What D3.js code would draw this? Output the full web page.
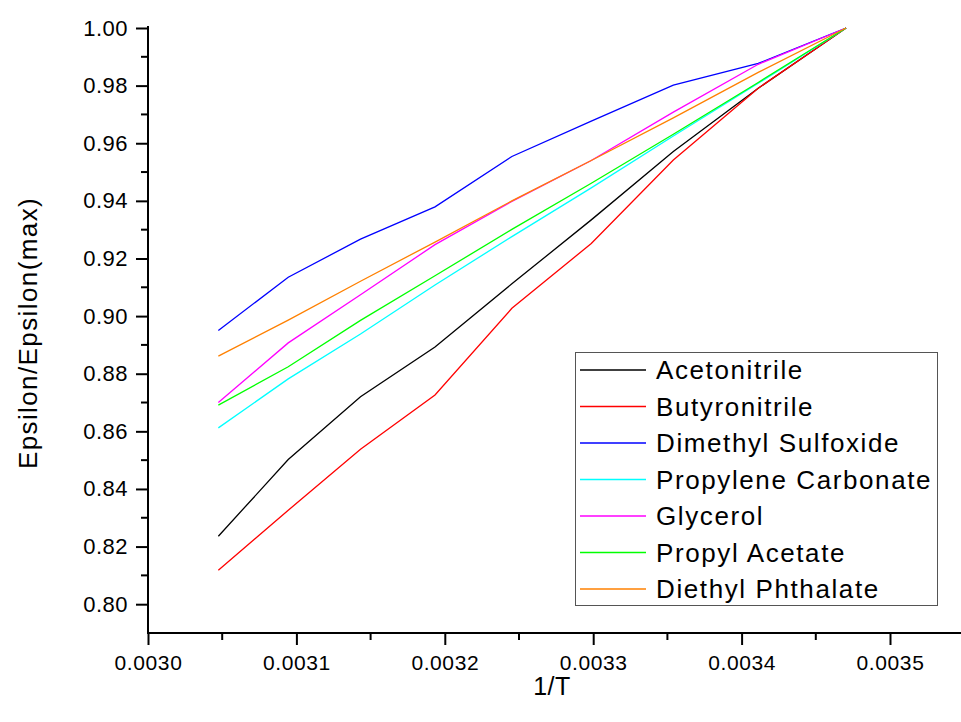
<!DOCTYPE html>
<html>
<head>
<meta charset="utf-8">
<script src="https://cdn.jsdelivr.net/npm/d3@7/dist/d3.min.js"></script>
<style>
  html, body { margin: 0; padding: 0; background: #fff; }
  svg text { font-family: "Liberation Sans", Arial, sans-serif; fill: #000; }
</style>
</head>
<body>
<svg id="chart" width="961" height="722"></svg>
<script>
// ---- data ----
const invT = [0.0030474, 0.0030945, 0.0031432, 0.0031934, 0.0032452, 0.0032987, 0.0033540, 0.0034112, 0.0034704];
const seriesNames = ["Acetonitrile", "Butyronitrile", "Dimethyl Sulfoxide", "Propylene Carbonate", "Glycerol", "Propyl Acetate", "Diethyl Phthalate"];
const acetonitrile        = [0.8236, 0.8502, 0.8720, 0.8893, 0.9112, 0.9334, 0.9571, 0.9791, 1.0];
const butyronitrile       = [0.8118, 0.8326, 0.8538, 0.8726, 0.9027, 0.9252, 0.9542, 0.9791, 1.0];
const dimethylSulfoxide   = [0.8950, 0.9135, 0.9267, 0.9379, 0.9554, 0.9677, 0.9802, 0.9877, 1.0];
const propyleneCarbonate  = [0.8612, 0.8782, 0.8938, 0.9108, 0.9276, 0.9445, 0.9625, 0.9808, 1.0];
const glycerol            = [0.8700, 0.8907, 0.9074, 0.9248, 0.9398, 0.9540, 0.9708, 0.9874, 1.0];
const propylAcetate       = [0.8691, 0.8824, 0.8985, 0.9140, 0.9301, 0.9461, 0.9631, 0.9811, 1.0];
const diethylPhthalate    = [0.8861, 0.8986, 0.9121, 0.9257, 0.9400, 0.9540, 0.9688, 0.9846, 1.0];
const seriesValues = [acetonitrile, butyronitrile, dimethylSulfoxide, propyleneCarbonate, glycerol, propylAcetate, diethylPhthalate];
const seriesColors = ["#000000", "#ff0000", "#0000ff", "#00ffff", "#ff00ff", "#00ff00", "#ff8000"];
const xTickValues = [0.0030, 0.0031, 0.0032, 0.0033, 0.0034, 0.0035];
const xTickLabels = ["0.0030", "0.0031", "0.0032", "0.0033", "0.0034", "0.0035"];
const xMinorTicks = [0.00305, 0.00315, 0.00325, 0.00335, 0.00345, 0.00355];
const yTickValues = [0.80, 0.82, 0.84, 0.86, 0.88, 0.90, 0.92, 0.94, 0.96, 0.98, 1.00];
const yTickLabels = ["0.80", "0.82", "0.84", "0.86", "0.88", "0.90", "0.92", "0.94", "0.96", "0.98", "1.00"];
const yMinorTicks = [0.81, 0.83, 0.85, 0.87, 0.89, 0.91, 0.93, 0.95, 0.97, 0.99];
const xTitle = "1/T";
const yTitle = "Epsilon/Epsilon(max)";

// ---- layout ----
const svg = d3.select("#chart");
const plotLeft = 148, plotTop = 28, plotBottom = 633, plotRightEnd = 961;
const x = d3.scaleLinear().domain([0.0030, 0.0035]).range([plotLeft, 890]);
const y = d3.scaleLinear().domain([0.79, 1.00]).range([plotBottom, plotTop]);
const FONT = "Liberation Sans, Arial, sans-serif";

// lines
const line = d3.line().x((d, i) => x(invT[i])).y(d => y(d));
const plot = svg.append("g");
seriesValues.forEach((vals, k) => {
  plot.append("path")
    .attr("d", line(vals))
    .attr("fill", "none")
    .attr("stroke", seriesColors[k])
    .attr("stroke-width", 1.3);
});

// x axis
const xAxis = svg.append("g").attr("transform", `translate(0,${plotBottom})`);
xAxis.call(d3.axisBottom(x).tickValues(xTickValues).tickFormat((d, i) => xTickLabels[i]).tickSize(12).tickPadding(10))
  .call(g => g.select(".domain").remove())
  .call(g => g.selectAll(".tick line").attr("stroke", "#000").attr("stroke-width", 2))
  .call(g => g.selectAll(".tick text").attr("font-size", 21).attr("letter-spacing", 0.6).attr("font-family", FONT));
xAxis.append("g").selectAll("line").data(xMinorTicks).join("line")
  .attr("x1", d => x(d)).attr("x2", d => x(d)).attr("y1", 0).attr("y2", 7)
  .attr("stroke", "#000").attr("stroke-width", 2);
xAxis.append("line").attr("x1", plotLeft - 1).attr("x2", plotRightEnd).attr("y1", 0).attr("y2", 0)
  .attr("stroke", "#000").attr("stroke-width", 2);

// y axis
const yAxis = svg.append("g").attr("transform", `translate(${plotLeft},0)`);
yAxis.call(d3.axisLeft(y).tickValues(yTickValues).tickFormat((d, i) => yTickLabels[i]).tickSize(12).tickPadding(8))
  .call(g => g.select(".domain").remove())
  .call(g => g.selectAll(".tick line").attr("stroke", "#000").attr("stroke-width", 2))
  .call(g => g.selectAll(".tick text").attr("font-size", 22).attr("letter-spacing", 0.5).attr("font-family", FONT));
yAxis.append("g").selectAll("line").data(yMinorTicks).join("line")
  .attr("y1", d => y(d)).attr("y2", d => y(d)).attr("x1", 0).attr("x2", -7)
  .attr("stroke", "#000").attr("stroke-width", 2);
yAxis.append("line").attr("x1", 0).attr("x2", 0).attr("y1", plotTop - 2).attr("y2", plotBottom + 1)
  .attr("stroke", "#000").attr("stroke-width", 2);

// titles
svg.append("text").attr("x", 552).attr("y", 695).attr("text-anchor", "middle")
  .attr("font-size", 25).attr("letter-spacing", 0.5).text(xTitle);
svg.append("text").attr("transform", "translate(37,333) rotate(-90)").attr("text-anchor", "middle")
  .attr("font-size", 26).attr("letter-spacing", 1.4).text(yTitle);

// legend
const legend = svg.append("g");
legend.append("rect").attr("x", 575.5).attr("y", 352.5).attr("width", 362).attr("height", 253)
  .attr("fill", "#fff").attr("stroke", "#555").attr("stroke-width", 1);
const rowY = d3.scaleLinear().domain([0, 6]).range([370, 589]);
seriesNames.forEach((name, k) => {
  legend.append("line").attr("x1", 580).attr("x2", 646).attr("y1", rowY(k)).attr("y2", rowY(k))
    .attr("stroke", seriesColors[k]).attr("stroke-width", 1.3);
  legend.append("text").attr("x", 656).attr("y", rowY(k)).attr("dy", "0.35em")
    .attr("font-size", 26).attr("letter-spacing", 1.6).text(name);
});
</script>
</body>
</html>
